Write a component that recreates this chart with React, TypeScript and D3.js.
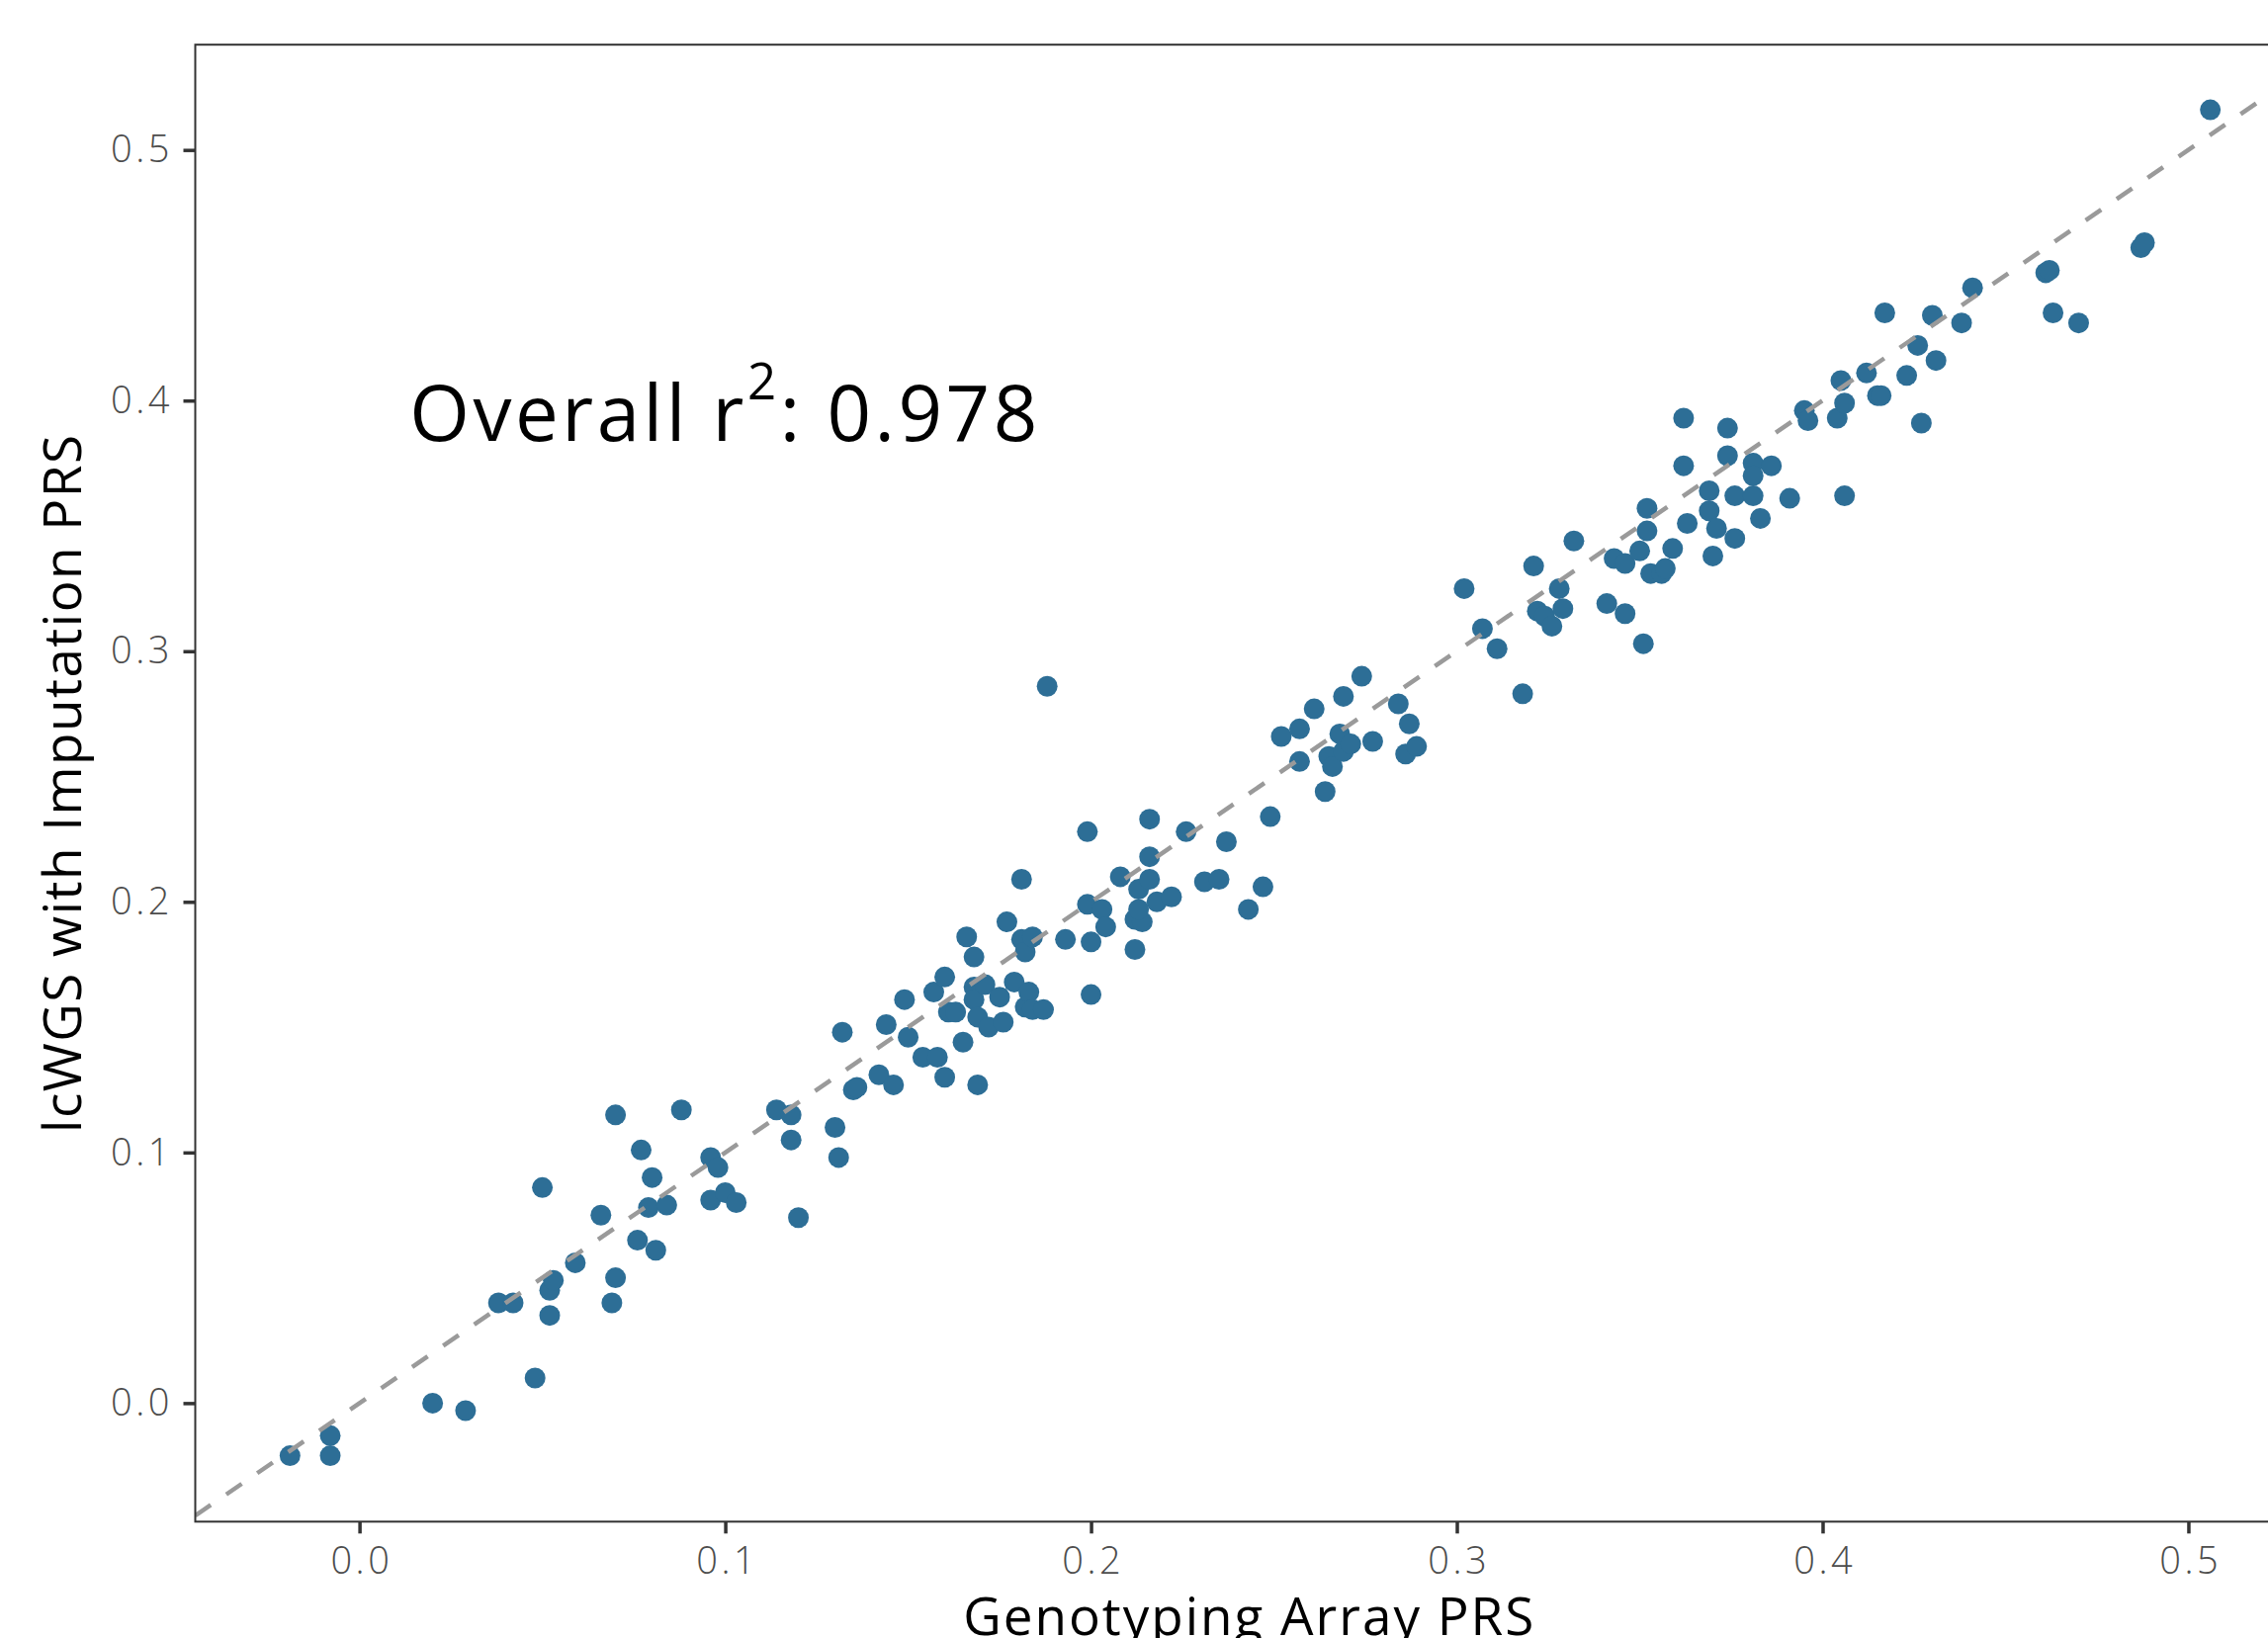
import React, { useEffect, useRef } from "react";
import * as d3 from "d3";

// genotyping array PRS (x) and lcWGS + imputation PRS (y), one entry per sample
const arrayPrs = [
  -0.019, -0.008, -0.008, 0.020, 0.029, 0.048, 0.038, 0.042, 0.052, 0.053,
  0.052, 0.059, 0.050, 0.066, 0.069, 0.070, 0.070, 0.076, 0.077, 0.080,
  0.079, 0.081, 0.084, 0.088, 0.096, 0.098, 0.096, 0.100, 0.103, 0.114,
  0.118, 0.118, 0.120, 0.130, 0.131, 0.132, 0.135, 0.136, 0.142, 0.144,
  0.146, 0.149, 0.150, 0.154, 0.157, 0.158, 0.160, 0.160, 0.161, 0.163,
  0.165, 0.166, 0.168, 0.168, 0.168, 0.169, 0.169, 0.171, 0.172, 0.175,
  0.177, 0.176, 0.179, 0.181, 0.181, 0.182, 0.182, 0.183, 0.184, 0.184,
  0.187, 0.188, 0.193, 0.199, 0.199, 0.200, 0.200, 0.203, 0.204, 0.208,
  0.212, 0.212, 0.213, 0.214, 0.216, 0.216, 0.216, 0.218, 0.222, 0.226,
  0.231, 0.235, 0.237, 0.243, 0.247, 0.249, 0.252, 0.257, 0.257, 0.261,
  0.264, 0.265, 0.266, 0.268, 0.269, 0.269, 0.271, 0.274, 0.277, 0.284,
  0.286, 0.287, 0.289, 0.302, 0.307, 0.311, 0.318, 0.321, 0.322, 0.324,
  0.326, 0.328, 0.329, 0.332, 0.341, 0.343, 0.346, 0.346, 0.351, 0.350,
  0.352, 0.352, 0.353, 0.356, 0.357, 0.359, 0.362, 0.362, 0.363, 0.369,
  0.369, 0.370, 0.371, 0.374, 0.374, 0.376, 0.376, 0.381, 0.381, 0.381,
  0.383, 0.386, 0.391, 0.395, 0.396, 0.404, 0.405, 0.406, 0.406, 0.412,
  0.415, 0.416, 0.417, 0.423, 0.426, 0.427, 0.430, 0.431, 0.438, 0.441,
  0.461, 0.462, 0.463, 0.470, 0.487, 0.488, 0.506, 0.213
];

const imputedPrs = [
  -0.021, -0.013, -0.021, 0.000, -0.003, 0.010, 0.040, 0.040, 0.045, 0.049,
  0.035, 0.056, 0.086, 0.075, 0.040, 0.050, 0.115, 0.065, 0.101, 0.090,
  0.078, 0.061, 0.079, 0.117, 0.098, 0.094, 0.081, 0.084, 0.080, 0.117,
  0.115, 0.105, 0.074, 0.110, 0.098, 0.148, 0.125, 0.126, 0.131, 0.151,
  0.127, 0.161, 0.146, 0.138, 0.164, 0.138, 0.130, 0.170, 0.156, 0.156,
  0.144, 0.186, 0.178, 0.166, 0.161, 0.154, 0.127, 0.167, 0.150, 0.162,
  0.192, 0.152, 0.168, 0.185, 0.209, 0.180, 0.158, 0.164, 0.186, 0.157,
  0.157, 0.286, 0.185, 0.228, 0.199, 0.163, 0.184, 0.197, 0.190, 0.210,
  0.193, 0.181, 0.205, 0.192, 0.233, 0.218, 0.209, 0.200, 0.202, 0.228,
  0.208, 0.209, 0.224, 0.197, 0.206, 0.234, 0.266, 0.269, 0.256, 0.277,
  0.244, 0.258, 0.254, 0.267, 0.282, 0.260, 0.263, 0.290, 0.264, 0.279,
  0.259, 0.271, 0.262, 0.325, 0.309, 0.301, 0.283, 0.334, 0.316, 0.314,
  0.310, 0.325, 0.317, 0.344, 0.319, 0.337, 0.335, 0.315, 0.303, 0.340,
  0.348, 0.357, 0.331, 0.331, 0.333, 0.341, 0.393, 0.374, 0.351, 0.364,
  0.356, 0.338, 0.349, 0.389, 0.378, 0.362, 0.345, 0.375, 0.370, 0.362,
  0.353, 0.374, 0.361, 0.396, 0.392, 0.393, 0.408, 0.362, 0.399, 0.411,
  0.402, 0.402, 0.435, 0.410, 0.422, 0.391, 0.434, 0.416, 0.431, 0.445,
  0.451, 0.452, 0.435, 0.431, 0.461, 0.463, 0.516, 0.197
];

const xTicks = [0, 0.1, 0.2, 0.3, 0.4, 0.5];
const yTicks = [0, 0.1, 0.2, 0.3, 0.4, 0.5];
const xDomain = [-0.0449, 0.5315];
const yDomain = [-0.0473, 0.542];
const rSquared = "0.978";

const FONT = "'Open Sans', 'Noto Sans', sans-serif";

export default function App() {
  const ref = useRef<SVGSVGElement>(null);

  useEffect(() => {
    const svg = d3.select(ref.current);
    svg.selectAll("*").remove();

    const left = 197.5, right = 2330, top = 45.2, bottom = 1539.3;

    const x = d3.scaleLinear().domain(xDomain).range([left, right]);
    const y = d3.scaleLinear().domain(yDomain).range([bottom, top]);

    svg.append("defs").append("clipPath").attr("id", "panel")
      .append("rect")
      .attr("x", left).attr("y", top)
      .attr("width", right - left).attr("height", bottom - top);

    const panel = svg.append("g").attr("clip-path", "url(#panel)");

    const pts = arrayPrs.map((v, i) => [v, imputedPrs[i]]);
    panel.selectAll("circle")
      .data(pts)
      .join("circle")
      .attr("cx", d => x(d[0]))
      .attr("cy", d => y(d[1]))
      .attr("r", 10.5)
      .attr("fill", "#2d6e96");

    // identity line y = x across the panel
    panel.append("line")
      .attr("x1", x(xDomain[0])).attr("y1", y(xDomain[0]))
      .attr("x2", x(xDomain[1])).attr("y2", y(xDomain[1]))
      .attr("stroke", "#9a9a9a")
      .attr("stroke-width", 4.5)
      .attr("stroke-dasharray", "19,19");

    svg.append("rect")
      .attr("x", left).attr("y", top)
      .attr("width", right - left).attr("height", bottom - top)
      .attr("fill", "none")
      .attr("stroke", "#333")
      .attr("stroke-width", 2);

    const xAxis = svg.append("g")
      .attr("transform", `translate(0,${bottom})`)
      .call(d3.axisBottom(x).tickValues(xTicks).tickFormat(d3.format(".1f")).tickSize(12).tickPadding(14));
    const yAxis = svg.append("g")
      .attr("transform", `translate(${left},0)`)
      .call(d3.axisLeft(y).tickValues(yTicks).tickFormat(d3.format(".1f")).tickSize(12).tickPadding(14));

    [xAxis, yAxis].forEach(g => {
      g.select(".domain").remove();
      g.selectAll(".tick line").attr("stroke", "#333").attr("stroke-width", 3.5);
      g.selectAll(".tick text")
        .attr("fill", "#4d4d4d")
        .attr("font-family", FONT)
        .attr("font-weight", 300)
        .attr("font-size", 38)
        .attr("letter-spacing", 3.5);
    });
    // letter-spacing adds trailing space; nudge so labels stay centred / flush
    xAxis.selectAll(".tick text").attr("dx", 1.75);
    yAxis.selectAll(".tick text").attr("dx", 3.5);

    svg.append("text")
      .attr("x", (left + right) / 2)
      .attr("y", 1654)
      .attr("text-anchor", "middle")
      .attr("font-family", FONT)
      .attr("font-size", 53)
      .attr("letter-spacing", 2)
      .attr("fill", "#000")
      .text("Genotyping Array PRS");

    svg.append("text")
      .attr("transform", `translate(82,${(top + bottom) / 2}) rotate(-90)`)
      .attr("text-anchor", "middle")
      .attr("font-family", FONT)
      .attr("font-size", 53)
      .attr("letter-spacing", 1.5)
      .attr("fill", "#000")
      .text("lcWGS with Imputation PRS");

    const note = svg.append("text")
      .attr("x", x(0.1))
      .attr("y", 446)
      .attr("text-anchor", "middle")
      .attr("font-family", FONT)
      .attr("font-size", 78)
      .attr("letter-spacing", 3.5)
      .attr("fill", "#000");
    note.append("tspan").text("Overall r");
    note.append("tspan").attr("dy", -42).attr("font-size", 51).text("2");
    note.append("tspan").attr("dy", 42).text(`: ${rSquared}`);
  }, []);

  return (
    <svg
      ref={ref}
      width={2294}
      height={1657}
      style={{ position: "absolute", left: 0, top: 0, background: "#fff" }}
    />
  );
}
